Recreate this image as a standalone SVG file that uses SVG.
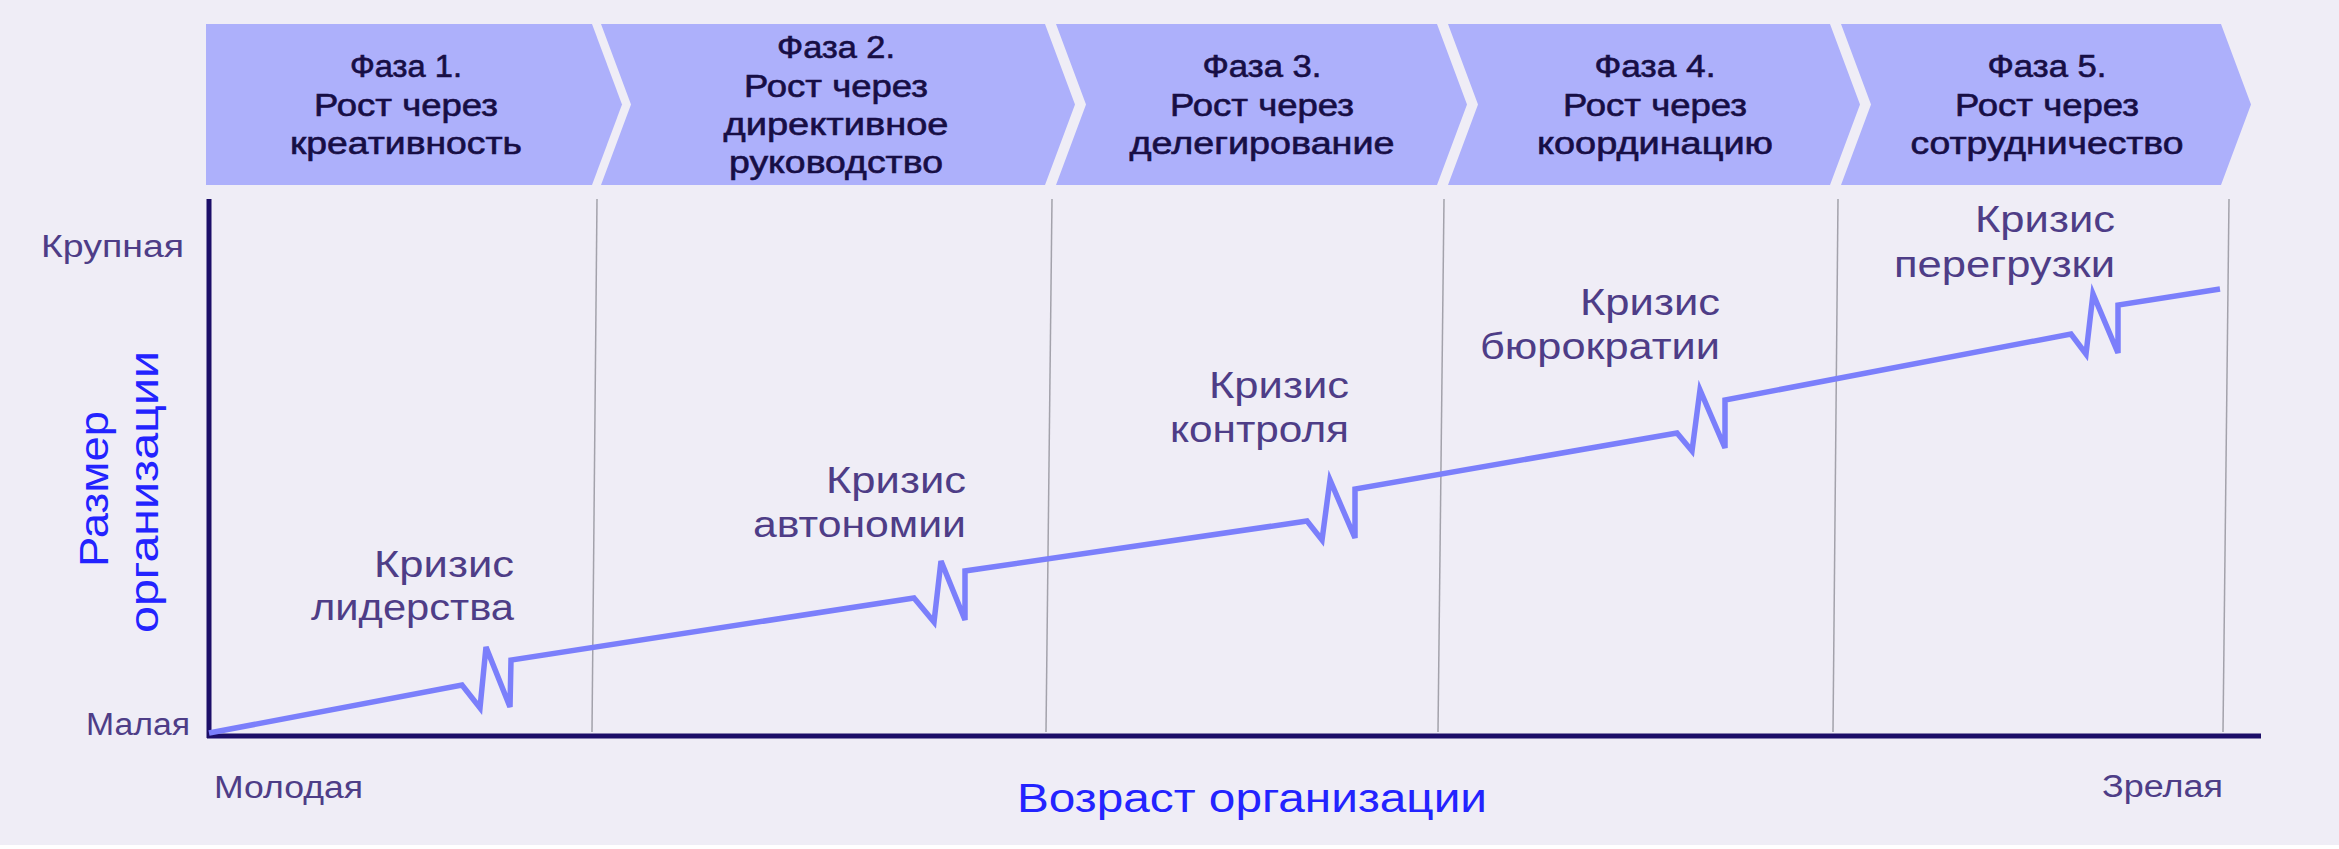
<svg xmlns="http://www.w3.org/2000/svg" width="2339" height="849" viewBox="0 0 2339 849">
<style>
text{font-family:"Liberation Sans","Noto Sans",sans-serif}
.bg{fill:#efedf6}
.chev{fill:#adb0fb}
.ct{font-size:31px;fill:#170e45;stroke:#170e45;stroke-width:0.6;text-anchor:middle}
.cr{font-size:37px;fill:#4e3d87;text-anchor:end}
.ax{font-size:31px;fill:#4e3d87}
.ttl{font-size:41px;fill:#2323ff;text-anchor:middle}
.pl{stroke:#a3a2ab;stroke-width:1.5;fill:none}
.axis{stroke:#1c0e68;stroke-width:5;fill:none}
.grow{stroke:#7b7ffb;stroke-width:5.5;fill:none;stroke-linejoin:miter}
</style>
<rect class="bg" x="0" y="0" width="2339" height="845"/>

<g id="phase1">
<path class="chev" d="M206,24 H592 L622,104.5 L592,185 H206 Z"/>
<text class="ct" x="406" y="77" textLength="112" lengthAdjust="spacingAndGlyphs">Фаза 1.</text>
<text class="ct" x="406" y="116" textLength="184" lengthAdjust="spacingAndGlyphs">Рост через</text>
<text class="ct" x="406" y="154" textLength="232" lengthAdjust="spacingAndGlyphs">креативность</text>
</g>
<g id="phase2">
<path class="chev" d="M601,24 H1045 L1075,104.5 L1045,185 H601 L631,104.5 Z"/>
<text class="ct" x="836" y="58" textLength="118" lengthAdjust="spacingAndGlyphs">Фаза 2.</text>
<text class="ct" x="836" y="97" textLength="184" lengthAdjust="spacingAndGlyphs">Рост через</text>
<text class="ct" x="836" y="135" textLength="225" lengthAdjust="spacingAndGlyphs">директивное</text>
<text class="ct" x="836" y="173" textLength="214" lengthAdjust="spacingAndGlyphs">руководство</text>
</g>
<g id="phase3">
<path class="chev" d="M1056,24 H1437 L1467,104.5 L1437,185 H1056 L1086,104.5 Z"/>
<text class="ct" x="1262" y="77" textLength="119" lengthAdjust="spacingAndGlyphs">Фаза 3.</text>
<text class="ct" x="1262" y="116" textLength="184" lengthAdjust="spacingAndGlyphs">Рост через</text>
<text class="ct" x="1262" y="154" textLength="265" lengthAdjust="spacingAndGlyphs">делегирование</text>
</g>
<g id="phase4">
<path class="chev" d="M1448,24 H1830 L1860,104.5 L1830,185 H1448 L1478,104.5 Z"/>
<text class="ct" x="1655" y="77" textLength="121" lengthAdjust="spacingAndGlyphs">Фаза 4.</text>
<text class="ct" x="1655" y="116" textLength="184" lengthAdjust="spacingAndGlyphs">Рост через</text>
<text class="ct" x="1655" y="154" textLength="236" lengthAdjust="spacingAndGlyphs">координацию</text>
</g>
<g id="phase5">
<path class="chev" d="M1841,24 H2221 L2251,104.5 L2221,185 H1841 L1871,104.5 Z"/>
<text class="ct" x="2047" y="77" textLength="119" lengthAdjust="spacingAndGlyphs">Фаза 5.</text>
<text class="ct" x="2047" y="116" textLength="184" lengthAdjust="spacingAndGlyphs">Рост через</text>
<text class="ct" x="2047" y="154" textLength="273" lengthAdjust="spacingAndGlyphs">сотрудничество</text>
</g>

<g id="phase-lines">
<line class="pl" x1="597" y1="199" x2="592" y2="732"/>
<line class="pl" x1="1052" y1="199" x2="1046" y2="732"/>
<line class="pl" x1="1444" y1="199" x2="1438" y2="732"/>
<line class="pl" x1="1838" y1="199" x2="1833" y2="732"/>
<line class="pl" x1="2229" y1="199" x2="2223" y2="732"/>
</g>

<g id="axes">
<line class="axis" x1="209" y1="199" x2="209" y2="738"/>
<line class="axis" x1="207" y1="736" x2="2261" y2="736"/>
<text class="ax" x="184" y="257" text-anchor="end" textLength="143" lengthAdjust="spacingAndGlyphs">Крупная</text>
<text class="ax" x="190" y="735" text-anchor="end" textLength="104" lengthAdjust="spacingAndGlyphs">Малая</text>
<text class="ax" x="214" y="798" textLength="149" lengthAdjust="spacingAndGlyphs">Молодая</text>
<text class="ax" x="2223" y="797" text-anchor="end" textLength="121" lengthAdjust="spacingAndGlyphs">Зрелая</text>
<text class="ttl" x="1252" y="812" textLength="470" lengthAdjust="spacingAndGlyphs">Возраст организации</text>
<text class="ttl" transform="translate(108,489) rotate(-90)" textLength="156" lengthAdjust="spacingAndGlyphs">Размер</text>
<text class="ttl" transform="translate(158,492) rotate(-90)" textLength="282" lengthAdjust="spacingAndGlyphs">организации</text>
</g>

<g id="connectors">
<polyline class="grow" points="209,733 462,685 480,708 486,647 510,707 511,660 914,598 934,622 941,561 965,620 965,571 1307,521 1322,540 1330,480 1355,538 1355,489 1677,433 1692,451 1700,390 1725,448 1725,400 2071,334 2086,354 2093,294 2118,353 2118,305 2220,289"/>
</g>

<g id="crisis1">
<text class="cr" x="514" y="577" textLength="140" lengthAdjust="spacingAndGlyphs">Кризис</text>
<text class="cr" x="514" y="620" textLength="203" lengthAdjust="spacingAndGlyphs">лидерства</text>
</g>
<g id="crisis2">
<text class="cr" x="966" y="493" textLength="140" lengthAdjust="spacingAndGlyphs">Кризис</text>
<text class="cr" x="966" y="537" textLength="213" lengthAdjust="spacingAndGlyphs">автономии</text>
</g>
<g id="crisis3">
<text class="cr" x="1349" y="398" textLength="140" lengthAdjust="spacingAndGlyphs">Кризис</text>
<text class="cr" x="1349" y="442" textLength="179" lengthAdjust="spacingAndGlyphs">контроля</text>
</g>
<g id="crisis4">
<text class="cr" x="1720" y="315" textLength="140" lengthAdjust="spacingAndGlyphs">Кризис</text>
<text class="cr" x="1720" y="359" textLength="240" lengthAdjust="spacingAndGlyphs">бюрократии</text>
</g>
<g id="crisis5">
<text class="cr" x="2115" y="232" textLength="140" lengthAdjust="spacingAndGlyphs">Кризис</text>
<text class="cr" x="2115" y="277" textLength="221" lengthAdjust="spacingAndGlyphs">перегрузки</text>
</g>
</svg>
